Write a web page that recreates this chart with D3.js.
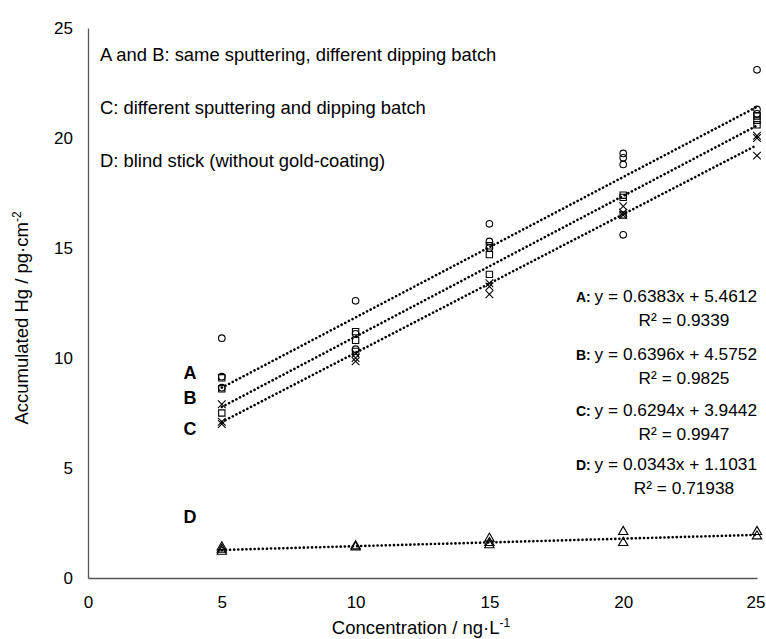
<!DOCTYPE html>
<html>
<head>
<meta charset="utf-8">
<script src="https://cdn.jsdelivr.net/npm/d3@7"></script>
<style>
  body { margin: 0; background: #fff; }
  text { font-family: "Liberation Sans", Arial, sans-serif; fill: #000; }
</style>
</head>
<body>
<svg id="chart" width="766" height="639"></svg>
<script>
const concentrations = [5, 10, 15, 20, 25];

// replicate values per concentration
const seriesA = [[10.9, 9.15, 8.65], [12.6, 11.1, 10.4], [16.1, 15.3, 15.0], [19.3, 19.1, 18.8, 15.6], [23.1, 21.3, 21.1]];
const seriesB = [[9.1, 8.6, 7.5], [11.2, 10.8, 10.3], [15.1, 14.7, 13.8], [17.4, 17.3, 16.5], [21.0, 20.8, 20.6]];
const seriesC = [[7.9, 7.1, 7.0], [10.2, 10.0, 9.85], [13.4, 13.25, 12.9], [16.9, 16.6, 16.5], [20.1, 20.0, 19.2]];
const seriesD = [[1.4, 1.3, 1.2], [1.45, 1.4], [1.8, 1.6, 1.5], [2.1, 1.6], [2.1, 1.9]];

const seriesNames = ["A", "B", "C", "D"];
const slopes = [0.6383, 0.6396, 0.6294, 0.0343];
const intercepts = [5.4612, 4.5752, 3.9442, 1.1031];
const rSquared = ["0.9339", "0.9825", "0.9947", "0.71938"];

const notes = [
  "A and B: same sputtering, different dipping batch",
  "C: different sputtering and dipping batch",
  "D: blind stick (without gold-coating)"
];

const xTicks = [0, 5, 10, 15, 20, 25];
const yTicks = [0, 5, 10, 15, 20, 25];

const svg = d3.select("#chart");

const x = d3.scaleLinear().domain([0, 25]).range([88, 757]);
const y = d3.scaleLinear().domain([0, 25]).range([578, 28]);

// axes
const xAxis = svg.append("g")
  .attr("transform", "translate(0," + y(0) + ")")
  .call(d3.axisBottom(x).tickValues(xTicks).tickSize(0).tickPadding(18));
const yAxis = svg.append("g")
  .attr("transform", "translate(" + x(0) + ",0)")
  .call(d3.axisLeft(y).tickValues(yTicks).tickSize(0).tickPadding(15));
[xAxis, yAxis].forEach((g) => {
  g.select(".domain").attr("stroke", "#555").attr("stroke-width", 1.3);
  g.selectAll("text")
    .style("font-family", "Liberation Sans, Arial, sans-serif")
    .style("font-size", "17px")
    .attr("fill", "#000");
});
yAxis.selectAll("text").attr("dy", "0.35em");
// keep the last x label inside the frame
xAxis.selectAll("text").filter((d) => d === 25).attr("dx", "-1.5");

// axis titles
const xTitle = svg.append("text")
  .attr("x", 421)
  .attr("y", 634)
  .attr("text-anchor", "middle")
  .style("font-size", "18.5px")
  .text("Concentration / ng·L");
xTitle.append("tspan").attr("dy", -7).style("font-size", "12px").text("-1");

const yTitle = svg.append("text")
  .attr("transform", "translate(28,318) rotate(-90)")
  .attr("text-anchor", "middle")
  .style("font-size", "18.5px")
  .text("Accumulated Hg / pg·cm");
yTitle.append("tspan").attr("dy", -7).style("font-size", "12px").text("-2");

// trend lines
const lineGroup = svg.append("g");
slopes.forEach((m, i) => {
  lineGroup.append("line")
    .attr("x1", x(5))
    .attr("y1", y(m * 5 + intercepts[i]))
    .attr("x2", x(25))
    .attr("y2", y(m * 25 + intercepts[i]))
    .attr("stroke", "#000")
    .attr("stroke-width", 2.6)
    .attr("stroke-linecap", "round")
    .attr("stroke-dasharray", "0.1,4");
});

// points
const symbols = [d3.symbolCircle, d3.symbolSquare, d3.symbolX, d3.symbolTriangle];
const symbolSizes = [34, 40, 40, 38];
[seriesA, seriesB, seriesC, seriesD].forEach((series, i) => {
  const pts = [];
  series.forEach((vals, j) => {
    vals.forEach((v) => pts.push({ c: concentrations[j], v: v }));
  });
  svg.append("g")
    .selectAll("path")
    .data(pts)
    .enter()
    .append("path")
    .attr("d", d3.symbol().type(symbols[i]).size(symbolSizes[i]))
    .attr("transform", (d) => "translate(" + x(d.c) + "," + y(d.v) + ")")
    .attr("fill", "none")
    .attr("stroke", "#000")
    .attr("stroke-width", 1.1);
});

// series letters near line starts
const letterY = [379, 404, 435, 523];
seriesNames.forEach((n, i) => {
  svg.append("text")
    .attr("x", 190)
    .attr("y", letterY[i])
    .attr("text-anchor", "middle")
    .style("font-size", "18px")
    .style("font-weight", "bold")
    .text(n);
});

// notes
notes.forEach((t, i) => {
  svg.append("text")
    .attr("x", 100)
    .attr("y", 61 + i * 53)
    .style("font-size", "18.4px")
    .text(t);
});

// equations
const eqY = [302, 360, 416, 470];
seriesNames.forEach((n, i) => {
  const t = svg.append("text")
    .attr("x", 757)
    .attr("y", eqY[i])
    .attr("text-anchor", "end")
    .style("font-size", "17.3px");
  t.append("tspan").style("font-size", "14px").style("font-weight", "bold").text(n + ": ");
  t.append("tspan").text("y = " + slopes[i].toFixed(4) + "x + " + intercepts[i].toFixed(4));
  svg.append("text")
    .attr("x", 684)
    .attr("y", eqY[i] + 24)
    .attr("text-anchor", "middle")
    .style("font-size", "17.3px")
    .text("R² = " + rSquared[i]);
});
</script>
</body>
</html>
